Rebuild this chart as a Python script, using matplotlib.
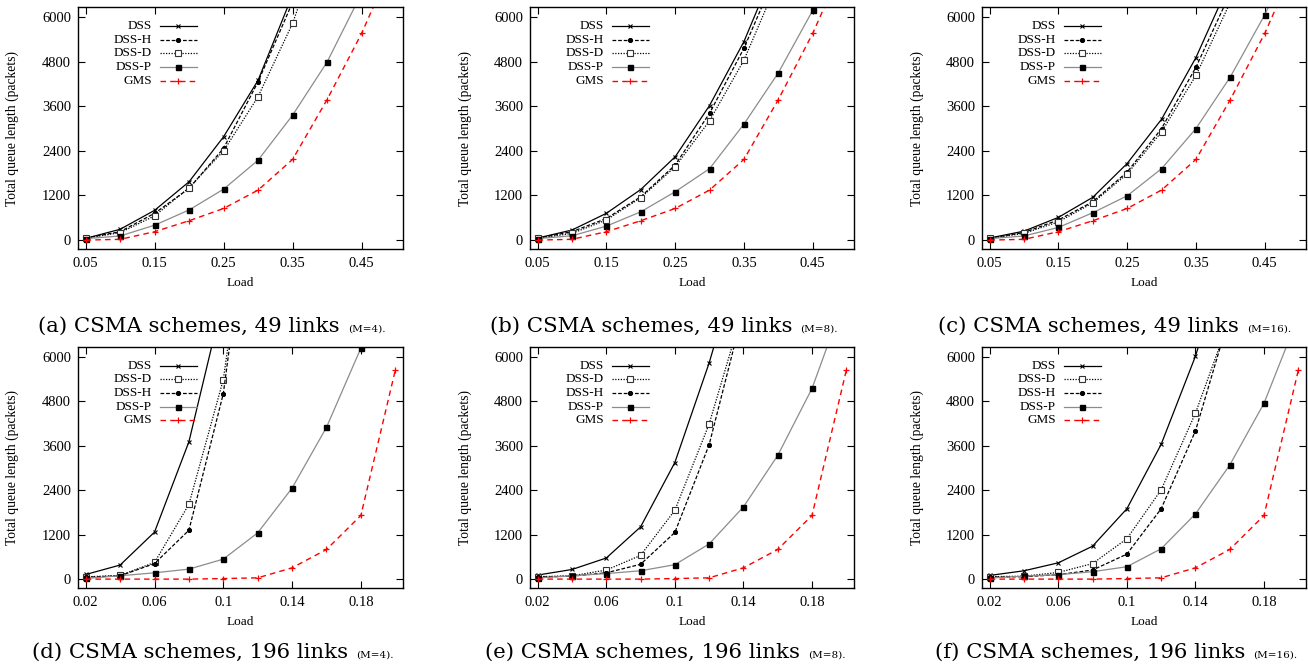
import matplotlib
matplotlib.use("Agg")
import matplotlib.pyplot as plt
from matplotlib.lines import Line2D

plt.rcParams['font.family'] = ['Liberation Serif', 'DejaVu Serif']

W, H = 1308, 665

# x values (load)
loads_49 = [0.05, 0.10, 0.15, 0.20, 0.25, 0.30, 0.35, 0.40, 0.45, 0.50]
loads_196 = [0.02, 0.04, 0.06, 0.08, 0.10, 0.12, 0.14, 0.16, 0.18, 0.20]

# GMS is the same in every panel of a row
gms_49 = [0, 20, 225, 520, 850, 1345, 2170, 3780, 5560, 7650]
gms_196 = [0, 0, 0, 0, 15, 35, 305, 800, 1720, 5640]

# (a) 49 links, M=4
dss_a = [45, 290, 800, 1570, 2780, 4300, 6600]
dssh_a = [55, 225, 720, 1390, 2470, 4260, 6400]
dssd_a = [50, 200, 650, 1410, 2400, 3860, 5830, 8500]
dssp_a = [40, 110, 400, 810, 1370, 2150, 3360, 4790, 6640]

# (b) 49 links, M=8
dss_b = [55, 270, 720, 1360, 2240, 3620, 5340, 7550]
dssh_b = [50, 225, 580, 1165, 2020, 3410, 5160, 7300]
dssd_b = [45, 180, 540, 1140, 1970, 3210, 4840, 7000]
dssp_b = [40, 115, 375, 760, 1300, 1920, 3120, 4500, 6180, 7900]

# (c) 49 links, M=16
dss_c = [55, 240, 610, 1150, 2060, 3250, 4910, 6970]
dssh_c = [50, 205, 540, 1030, 1830, 3000, 4650, 6650]
dssd_c = [45, 180, 490, 1000, 1780, 2910, 4430, 6400]
dssp_c = [40, 110, 340, 735, 1190, 1920, 3000, 4390, 6060, 8000]

# (d) 196 links, M=4
dss_d = [125, 380, 1270, 3710, 7590]
dssd_d = [60, 100, 450, 2020, 5390, 12000]
dssh_d = [50, 90, 420, 1320, 5010, 12000]
dssp_d = [20, 90, 170, 270, 540, 1250, 2460, 4100, 6240]

# (e) 196 links, M=8
dss_e = [110, 260, 570, 1410, 3150, 5840, 9000]
dssd_e = [65, 90, 245, 640, 1860, 4190, 7320]
dssh_e = [55, 80, 170, 400, 1260, 3630, 7270]
dssp_e = [30, 90, 150, 225, 390, 950, 1950, 3340, 5150, 7700]

# (f) 196 links, M=16
dss_f = [100, 225, 440, 890, 1900, 3640, 6020, 9000]
dssd_f = [65, 80, 180, 420, 1090, 2410, 4480, 7040]
dssh_f = [55, 65, 120, 245, 675, 1900, 4000, 7130]
dssp_f = [30, 80, 120, 200, 335, 820, 1760, 3080, 4750, 7090]

y_ticks = [0, 1200, 2400, 3600, 4800, 6000]
x_ticks_49 = [0.05, 0.15, 0.25, 0.35, 0.45]
x_ticks_196 = [0.02, 0.06, 0.1, 0.14, 0.18]
x_ticklabels_49 = ['0.05', '0.15', '0.25', '0.35', '0.45']
x_ticklabels_196 = ['0.02', '0.06', '0.1', '0.14', '0.18']

captions = ['(a) CSMA schemes, 49 links', '(b) CSMA schemes, 49 links', '(c) CSMA schemes, 49 links',
            '(d) CSMA schemes, 196 links', '(e) CSMA schemes, 196 links', '(f) CSMA schemes, 196 links']
caption_notes = ['(M=4).', '(M=8).', '(M=16).', '(M=4).', '(M=8).', '(M=16).']

styles = {
    'DSS': dict(color='black', ls='-', lw=0.9, marker='x', ms=3.5, mew=0.8),
    'DSS-H': dict(color='black', ls=(0, (3, 1.5)), lw=0.9, marker=(8, 2, 0), ms=3.5, mew=0.9),
    'DSS-D': dict(color='black', ls=(0, (1, 1.2)), lw=0.9, marker='s', ms=4, mew=0.8,
                  mfc='white', mec='#333333'),
    'DSS-P': dict(color='#8c8c8c', ls='-', lw=0.9, marker='s', ms=3.6, mec='black', mfc='black'),
    'GMS': dict(color='#ff0000', ls=(0, (4, 3)), lw=1.0, marker='+', ms=4.5, mew=0.9),
}

panels = [
    # (px box left, right, top, bottom), loads, xlim, ticks, labels, series in legend order
    ((78, 403, 7, 249), loads_49, (0.039, 0.51), x_ticks_49, x_ticklabels_49,
     [('DSS', dss_a), ('DSS-H', dssh_a), ('DSS-D', dssd_a), ('DSS-P', dssp_a), ('GMS', gms_49)]),
    ((530, 854, 7, 249), loads_49, (0.039, 0.51), x_ticks_49, x_ticklabels_49,
     [('DSS', dss_b), ('DSS-H', dssh_b), ('DSS-D', dssd_b), ('DSS-P', dssp_b), ('GMS', gms_49)]),
    ((982, 1306, 7, 249), loads_49, (0.039, 0.51), x_ticks_49, x_ticklabels_49,
     [('DSS', dss_c), ('DSS-H', dssh_c), ('DSS-D', dssd_c), ('DSS-P', dssp_c), ('GMS', gms_49)]),
    ((78, 403, 347, 588), loads_196, (0.0155, 0.2045), x_ticks_196, x_ticklabels_196,
     [('DSS', dss_d), ('DSS-D', dssd_d), ('DSS-H', dssh_d), ('DSS-P', dssp_d), ('GMS', gms_196)]),
    ((530, 854, 347, 588), loads_196, (0.0155, 0.2045), x_ticks_196, x_ticklabels_196,
     [('DSS', dss_e), ('DSS-D', dssd_e), ('DSS-H', dssh_e), ('DSS-P', dssp_e), ('GMS', gms_196)]),
    ((982, 1306, 347, 588), loads_196, (0.0155, 0.2045), x_ticks_196, x_ticklabels_196,
     [('DSS', dss_f), ('DSS-D', dssd_f), ('DSS-H', dssh_f), ('DSS-P', dssp_f), ('GMS', gms_196)]),
]

caption_pos = [(38, 332), (490, 332), (938, 332), (32, 658), (485, 658), (935, 658)]

fig = plt.figure(figsize=(W / 100, H / 100), dpi=100)

for (box, loads, xlim, xt, xtl, series) in panels:
    l, r, t, b = box
    ax = fig.add_axes([l / W, (H - b) / H, (r - l) / W, (b - t) / H])
    for name, vals in series:
        ax.plot(loads[:len(vals)], vals, **styles[name])
    ax.set_xlim(*xlim)
    ax.set_ylim(-240, 6270)
    ax.set_xticks(xt)
    ax.set_xticklabels(xtl)
    ax.set_yticks(y_ticks)
    ax.tick_params(direction='in', top=True, right=True, length=5, width=0.8,
                   labelsize=10.5)
    ax.tick_params(axis='x', pad=6)
    ax.tick_params(axis='y', pad=5)
    for sp in ax.spines.values():
        sp.set_linewidth(1.0)
    ax.set_xlabel('Load', fontsize=9.5)
    ax.xaxis.set_label_coords(0.5, -0.115)
    ax.set_ylabel('Total queue length (packets)', fontsize=9.8)
    ax.yaxis.set_label_coords(-0.18, 0.5)

    # legend: right-aligned text, sample line to the right
    for i, (name, vals) in enumerate(series):
        yy = 0.922 - i * 0.0565
        ax.text(0.228, yy, name, transform=ax.transAxes, ha='right', va='center', fontsize=9.5)
        ax.add_line(Line2D([0.252, 0.309, 0.366], [yy, yy, yy], transform=ax.transAxes,
                           markevery=[1], clip_on=False, **styles[name]))

renderer = fig.canvas.get_renderer()
for (cx, cy), cap, note in zip(caption_pos, captions, caption_notes):
    t1 = fig.text(cx / W, (H - cy) / H, cap, fontsize=15.3, family='DejaVu Serif',
                  ha='left', va='baseline')
    bb = t1.get_window_extent(renderer=renderer)
    fig.text((bb.x1 + 8) / W, (H - cy) / H, note, fontsize=7.5, family='DejaVu Serif',
             ha='left', va='baseline')

fig.savefig('out.png', dpi=100)
